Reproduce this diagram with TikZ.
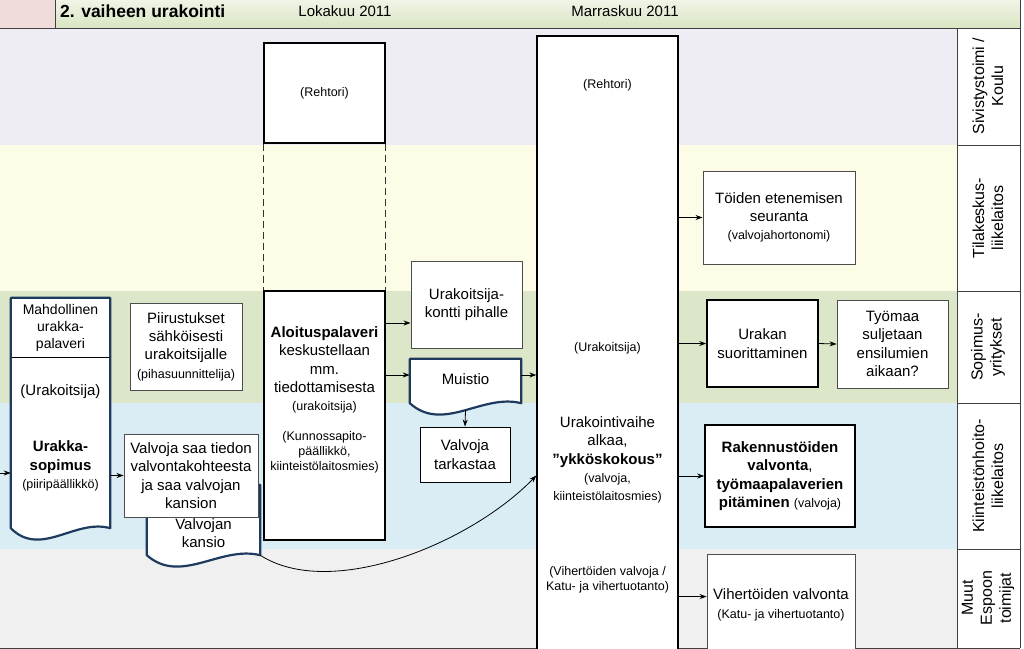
\documentclass[tikz,border=0pt]{standalone}
\usepackage{fontspec}
\setmainfont{Liberation Sans}
\usetikzlibrary{arrows.meta,calc}
\definecolor{headpink}{HTML}{F0DCDB}
\definecolor{headgreen}{HTML}{D9E5C2}
\definecolor{laneA}{HTML}{EEEDF3}
\definecolor{laneB}{HTML}{FDFDE7}
\definecolor{laneC}{HTML}{DCE6C8}
\definecolor{laneD}{HTML}{DAEDF5}
\definecolor{laneE}{HTML}{F0F0F0}
\definecolor{docblue}{HTML}{1F3A5F}
\newcommand{\smtxt}{\fontsize{12.5}{15}\selectfont}
\newcommand{\docshape}[1]{%
    \path[docline] (#1.south west) -- (#1.north west) -- (#1.north east) -- (#1.south east)
        .. controls ($(#1.south east)!0.35!(#1.south west)+(0,-10)$) and ($(#1.south east)!0.7!(#1.south west)+(0,30)$) .. (#1.south west) -- cycle;}
\tikzset{
    >={Stealth[length=7pt,width=5pt]},
    swim/.style={
        x=1pt,y=-1pt,
        box/.append style={align=center,draw=black!70,line width=0.9pt,fill=white,inner sep=1pt,font=\fontsize{15}{18.3}\selectfont},
        thickbox/.append style={draw=black,line width=1.6pt},
        mainbox/.append style={draw=black,line width=1.3pt},
        doc/.append style={inner sep=0pt},
        docline/.append style={draw=docblue,line width=2.2pt,fill=white,line join=round},
        txt/.append style={align=center,inner sep=0pt,font=\fontsize{15}{18.3}\selectfont},
        lanetxt/.append style={align=center,rotate=90,inner sep=0pt,font=\fontsize{16}{19}\selectfont},
        laneline/.append style={draw=black!75,line width=0.9pt},
        every edge/.append style={draw,line width=0.8pt,->}
    }
}
\begin{document}
\begin{tikzpicture}[swim]
    \useasboundingbox (0,0) rectangle (1024,648);
    % header and lanes
    \fill[headpink] (0,0) rectangle (55,28);
    \shade[top color=headgreen!40,bottom color=headgreen] (55,0) rectangle (1020,28);
    \fill[white] (957,28) rectangle (1020,648);
    \foreach \ya/\yb/\col in {28/145/laneA,145/291/laneB,291/403/laneC,403/549/laneD,549/648/laneE}{
        \fill[\col] (0,\ya) rectangle (957,\yb);
        \draw[laneline] (0,\yb) -- (1020,\yb);
    }
    \draw[laneline] (0,28) -- (1020,28) (55,0) -- (55,28) (957,28) -- (957,648) (1020,0) -- (1020,648);
    \node[anchor=west,inner sep=0pt,font=\bfseries\fontsize{17.5}{20}\selectfont] (hd) at (60,11) {2. vaiheen urakointi};
    \node[txt] (okt) at (345,11) {Lokakuu 2011};
    \node[txt] (mar) at (625,11) {Marraskuu 2011};
    \node[lanetxt] (l1) at (988,86) {Sivistystoimi /\\Koulu};
    \node[lanetxt] (l2) at (988,218) {Tilakeskus-\\liikelaitos};
    \node[lanetxt] (l3) at (988,347) {Sopimus-\\yritykset};
    \node[lanetxt] (l4) at (988,476) {Kiinteistönhoito-\\liikelaitos};
    \node[lanetxt] (l5) at (988,598) {Muut\\Espoon\\toimijat};

    \node[box,mainbox,minimum width=121pt,minimum height=100pt] (reh) at (324.5,93) {\smtxt (Rehtori)};
    \node[box,mainbox,minimum width=121pt,minimum height=249pt] (al) at (324.5,415.5) {};
    \draw[laneline,draw=black!80,dash pattern=on 7pt off 4pt] (reh.south west) -- (al.north west) (reh.south east) -- (al.north east);
    \node[txt] (al1) at (324.5,370) {\textbf{Aloituspalaveri}\\keskustellaan\\mm.\\tiedottamisesta\\{\smtxt (urakoitsija)}};
    \node[txt,font=\smtxt] (al2) at (324.5,452) {(Kunnossapito-\\päällikkö,\\kiinteistölaitosmies)};

    \node[box,mainbox,minimum width=141pt,minimum height=630pt] (uv) at (607.5,351) {};
    \node[txt,font=\smtxt] (uv1) at (607.5,85) {(Rehtori)};
    \node[txt,font=\smtxt] (uv2) at (607.5,348) {(Urakoitsija)};
    \node[txt] (uv3) at (607.5,460) {Urakointivaihe\\alkaa,\\\textbf{”ykköskokous”}\\{\smtxt (valvoja,}\\{\smtxt kiinteistölaitosmies)}};
    \node[txt,font=\smtxt] (uv4) at (607.5,580) {(Vihertöiden valvoja /\\Katu- ja vihertuotanto)};

    \node[doc,minimum width=99pt,minimum height=230pt] (ur) at (60.5,413) {};
    \docshape{ur}
    \node[txt,minimum width=97pt,minimum height=58pt,font=\fontsize{14}{17}\selectfont] (mp) at (60.5,328) {Mahdollinen\\urakka-\\palaveri};
    \draw[line width=0.9pt] (mp.south west) -- (mp.south east);
    \node[txt] (ur1) at (60.5,392) {(Urakoitsija)};
    \node[txt] (ur2) at (60.5,466) {\textbf{Urakka-}\\\textbf{sopimus}\\{\smtxt (piiripäällikkö)}};

    \node[box,minimum width=112pt,minimum height=87pt] (pi) at (186,346.5) {Piirustukset\\sähköisesti\\urakoitsijalle\\{\smtxt (pihasuunnittelija)}};
    \node[doc,minimum width=113pt,minimum height=70pt] (vk) at (203.5,520) {};
    \docshape{vk}
    \node[txt] (vkt) at (203.5,533) {Valvojan\\kansio};
    \node[box,minimum width=134pt,minimum height=83pt] (vs) at (191,475.5) {Valvoja saa tiedon\\valvontakohteesta\\ja saa valvojan\\kansion};

    \node[box,minimum width=111pt,minimum height=87pt] (kp) at (466.5,304.5) {Urakoitsija-\\kontti pihalle};
    \node[doc,minimum width=111pt,minimum height=44pt] (mu) at (465.5,381) {};
    \docshape{mu}
    \node[txt] (mut) at (465.5,379) {Muistio};
    \node[box,draw=black,minimum width=90pt,minimum height=55pt] (vt) at (465,454.5) {Valvoja\\tarkastaa};

    \node[box,minimum width=152pt,minimum height=93pt] (te) at (779,217.5) {Töiden etenemisen\\seuranta\\{\smtxt (valvojahortonomi)}};
    \node[box,thickbox,minimum width=111pt,minimum height=87pt] (us) at (762.5,343.5) {Urakan\\suorittaminen};
    \node[box,minimum width=111pt,minimum height=88pt] (ty) at (892.5,344) {Työmaa\\suljetaan\\ensilumien\\aikaan?};
    \node[box,thickbox,minimum width=150pt,minimum height=102pt] (rv) at (780,476) {\textbf{Rakennustöiden}\\\textbf{valvonta},\\\textbf{työmaapalaverien}\\\textbf{pitäminen} {\smtxt (valvoja)}};
    \node[box,minimum width=148pt,minimum height=120pt] (vv) at (781,614) {};
    \node[txt] (vvt) at (781,605) {Vihertöiden valvonta\\{\smtxt (Katu- ja vihertuotanto)}};

    \coordinate (ent) at (0,473);
    \coordinate (kpin) at ([yshift=-18.5pt]kp.west);
    \coordinate (muin) at ([yshift=6pt]mu.west);
    \coordinate (vvin) at ([yshift=-43pt]vv.north west);
    \path (ent) edge (ent -| ur.west)
        (ur.east |- vs.west) edge (vs.west)
        (al.east |- kpin) edge (kpin)
        (al.east |- muin) edge (muin)
        (mu.east |- muin) edge (uv.west |- muin)
        ([yshift=-7pt]mu.south) edge (vt.north)
        (uv.east |- te.west) edge (te.west)
        (uv.east |- us.west) edge (us.west)
        (us.east) edge (ty.west)
        (uv.east |- rv.west) edge (rv.west)
        (uv.east |- vvin) edge (vvin);
    \draw[line width=0.8pt,->] (vk.south east) .. controls +(70,45) and +(-67,69) .. (uv.west |- vs.east);
\end{tikzpicture}
\end{document}
